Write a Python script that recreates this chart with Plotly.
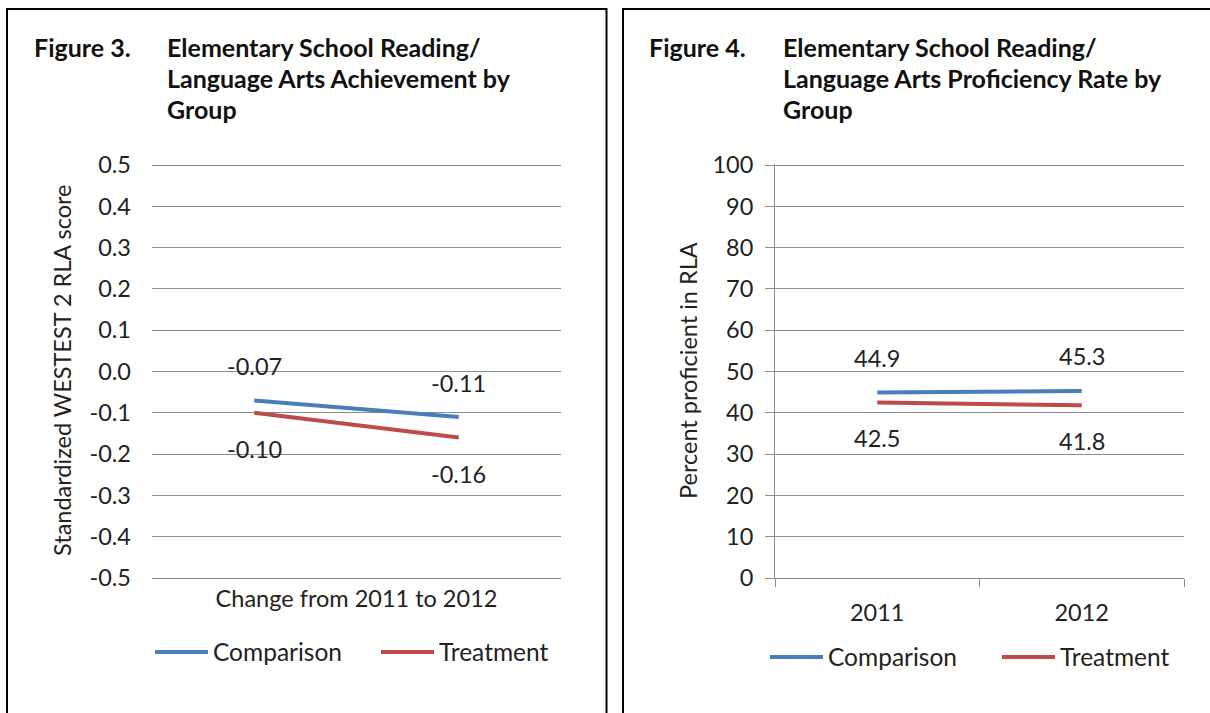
import plotly.graph_objects as go

W, H = 1210, 713

# ---- Figure 3: standardized WESTEST 2 RLA score ----
fig3_x = [0.5, 1.5]
fig3_xtick_vals = [1.0]
fig3_xtick_text = ["Change from 2011 to 2012"]
fig3_comparison = [-0.07, -0.11]
fig3_treatment = [-0.10, -0.16]
fig3_yticks = [0.5, 0.4, 0.3, 0.2, 0.1, 0.0, -0.1, -0.2, -0.3, -0.4, -0.5]
fig3_yticktext = ["0.5", "0.4", "0.3", "0.2", "0.1", "0.0",
                  "-0.1", "-0.2", "-0.3", "-0.4", "-0.5"]
fig3_title = ["Elementary School Reading/", "Language Arts Achievement by", "Group"]

# ---- Figure 4: percent proficient in RLA ----
fig4_years = ["2011", "2012"]
fig4_comparison = [44.9, 45.3]
fig4_treatment = [42.5, 41.8]
fig4_yticks = [0, 10, 20, 30, 40, 50, 60, 70, 80, 90, 100]
fig4_title = ["Elementary School Reading/", "Language Arts Proficiency Rate by", "Group"]

BLUE = "#4A7EBB"
RED = "#BE4B48"
GRID = "#8C8C8C"
TXT = "#222222"
FONT = "Lato, Calibri, Carlito, sans-serif"
FS = 23.5
LEG_FS = 24.5
HEAD_FS = 25


def px_x(p):
    return p / W


def px_y(p):
    return 1 - p / H


fig = go.Figure()

# Figure 3 lines
fig.add_trace(go.Scatter(x=fig3_x, y=fig3_comparison, mode="lines", name="Comparison",
                         line=dict(color=BLUE, width=4), xaxis="x", yaxis="y",
                         legend="legend"))
fig.add_trace(go.Scatter(x=fig3_x, y=fig3_treatment, mode="lines", name="Treatment",
                         line=dict(color=RED, width=4), xaxis="x", yaxis="y",
                         legend="legend"))
# Figure 4 lines
fig.add_trace(go.Scatter(x=fig4_years, y=fig4_comparison, mode="lines", name="Comparison",
                         line=dict(color=BLUE, width=4), xaxis="x2", yaxis="y2",
                         legend="legend2"))
fig.add_trace(go.Scatter(x=fig4_years, y=fig4_treatment, mode="lines", name="Treatment",
                         line=dict(color=RED, width=4), xaxis="x2", yaxis="y2",
                         legend="legend2"))

annotations = []


# value labels: comparison above the line, treatment below
def value_labels(xs, ys, xref, yref, fmt, shift):
    for xv, yv in zip(xs, ys):
        annotations.append(dict(x=xv, y=yv, xref=xref, yref=yref, text=fmt.format(yv),
                                showarrow=False, yshift=shift, xanchor="center",
                                yanchor="middle", font=dict(family=FONT, size=FS, color=TXT)))


# category axes take the category index for annotation positions
fig4_idx = list(range(len(fig4_years)))

value_labels(fig3_x, fig3_comparison, "x", "y", "{:.2f}", 34)
value_labels(fig3_x, fig3_treatment, "x", "y", "{:.2f}", -36)
value_labels(fig4_idx, fig4_comparison, "x2", "y2", "{:.1f}", 35)
value_labels(fig4_idx, fig4_treatment, "x2", "y2", "{:.1f}", -36)


# panel headings
def heading(fig_label, lines, x_lab, x_txt):
    annotations.append(dict(x=px_x(x_lab), y=px_y(47), xref="paper", yref="paper",
                            text="<b>" + fig_label + "</b>", showarrow=False,
                            xanchor="left", yanchor="middle",
                            font=dict(family=FONT, size=HEAD_FS, color="#111111")))
    for i, ln in enumerate(lines):
        annotations.append(dict(x=px_x(x_txt), y=px_y(47 + 31 * i), xref="paper", yref="paper",
                                text="<b>" + ln + "</b>", showarrow=False,
                                xanchor="left", yanchor="middle",
                                font=dict(family=FONT, size=HEAD_FS, color="#111111")))


heading("Figure 3.", fig3_title, 32, 165)
heading("Figure 4.", fig4_title, 647, 781)

# axis titles
annotations.append(dict(x=px_x(62), y=px_y(371), xref="paper", yref="paper",
                        text="Standardized WESTEST 2 RLA score", textangle=-90,
                        showarrow=False, xanchor="center", yanchor="middle",
                        font=dict(family=FONT, size=FS, color=TXT)))
annotations.append(dict(x=px_x(688), y=px_y(371), xref="paper", yref="paper",
                        text="Percent proficient in RLA", textangle=-90,
                        showarrow=False, xanchor="center", yanchor="middle",
                        font=dict(family=FONT, size=FS, color=TXT)))


# panel frames (open at the bottom, kept inside the page)
def frame(x0, x1, top, right_side=True):
    X0, X1, T = px_x(x0), px_x(x1), px_y(top)
    path = f"M{X0},0 L{X0},{T} L{X1},{T}"
    if right_side:
        path += f" L{X1},0"
    return dict(type="path", xref="paper", yref="paper", path=path,
                line=dict(color="black", width=2))


shapes = [frame(7, 606.5, 9), frame(623, 1210, 9, right_side=False)]

# tiny range padding so the end gridlines are drawn
pad3 = 0.003
unit3 = (578 - 165) / 1.0
ydom3 = [px_y(578 + pad3 * unit3), px_y(165 - pad3 * unit3)]
pad4 = 0.3
unit4 = (578 - 165) / 100.0
ydom4 = [px_y(578), px_y(165 - pad4 * unit4)]
tickfont = dict(family=FONT, size=FS, color=TXT)
legfont = dict(family=FONT, size=LEG_FS, color=TXT)

fig.update_layout(
    width=W, height=H,
    margin=dict(l=0, r=0, t=0, b=0, autoexpand=False),
    paper_bgcolor="white", plot_bgcolor="white",
    showlegend=True,
    xaxis=dict(domain=[px_x(152), px_x(561)], range=[0, 2], tickvals=fig3_xtick_vals,
               ticktext=fig3_xtick_text, showgrid=False, zeroline=False, showline=False,
               ticks="", tickfont=tickfont, ticklabelstandoff=3, automargin=False,
               fixedrange=True),
    yaxis=dict(domain=ydom3, range=[-0.5 - pad3, 0.5 + pad3], tickvals=fig3_yticks,
               ticktext=fig3_yticktext, showgrid=True, gridcolor=GRID, gridwidth=1,
               zeroline=False, showline=False, ticks="", tickfont=tickfont,
               ticklabelstandoff=20, automargin=False, fixedrange=True),
    xaxis2=dict(domain=[px_x(775), px_x(1184)], type="category", range=[-0.5, 1.5],
                tickson="boundaries", ticks="outside", ticklen=8, tickcolor=GRID,
                showline=True, linecolor=GRID, linewidth=1, showgrid=False,
                tickfont=tickfont, ticklabelstandoff=14, anchor="y2", automargin=False,
                fixedrange=True),
    yaxis2=dict(domain=ydom4, range=[0, 100 + pad4], tickvals=fig4_yticks, showgrid=True,
                gridcolor=GRID, gridwidth=1, zeroline=False, showline=True, linecolor=GRID,
                linewidth=1, ticks="outside", ticklen=9, tickcolor=GRID, tickfont=tickfont,
                ticklabelstandoff=7, anchor="x2", automargin=False, fixedrange=True),
    legend=dict(orientation="h", x=px_x(150), y=px_y(652), xanchor="left", yanchor="middle",
                font=legfont, itemwidth=53, entrywidth=158, bgcolor="rgba(0,0,0,0)"),
    legend2=dict(orientation="h", x=px_x(765), y=px_y(657), xanchor="left", yanchor="middle",
                 font=legfont, itemwidth=53, entrywidth=164, bgcolor="rgba(0,0,0,0)"),
    annotations=annotations,
    shapes=shapes,
)

fig.write_html("out.html")
